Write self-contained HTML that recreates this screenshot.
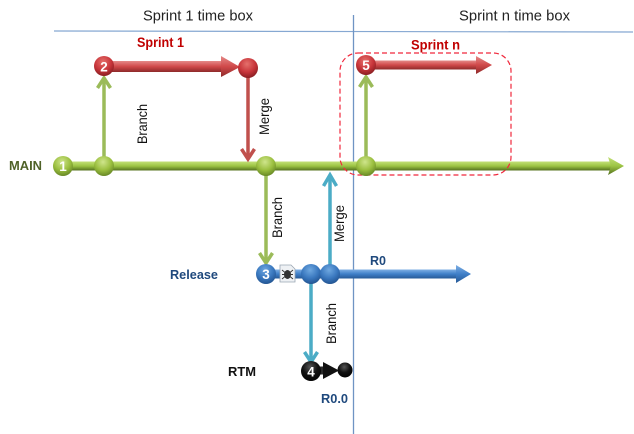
<!DOCTYPE html>
<html><head><meta charset="utf-8"><style>
html,body{margin:0;padding:0;background:#fff}
svg{display:block;filter:blur(.35px)}
text{font-family:"Liberation Sans",sans-serif}
</style></head><body>
<svg width="634" height="434" viewBox="0 0 634 434" xmlns="http://www.w3.org/2000/svg">
<defs>
<linearGradient id="gl" x1="0" y1="0" x2="0" y2="1"><stop offset="0" stop-color="#c3e078"/><stop offset=".5" stop-color="#9cc443"/><stop offset="1" stop-color="#54701f"/></linearGradient>
<linearGradient id="rl" x1="0" y1="0" x2="0" y2="1"><stop offset="0" stop-color="#e58a88"/><stop offset=".5" stop-color="#d0494a"/><stop offset="1" stop-color="#8e2a2a"/></linearGradient>
<linearGradient id="bl" x1="0" y1="0" x2="0" y2="1"><stop offset="0" stop-color="#7fb0e4"/><stop offset=".5" stop-color="#3f7fc8"/><stop offset="1" stop-color="#275a96"/></linearGradient>
<radialGradient id="gn" cx=".45" cy=".3" r=".75"><stop offset="0" stop-color="#cfe58c"/><stop offset=".55" stop-color="#9bbf3f"/><stop offset="1" stop-color="#5f7f22"/></radialGradient>
<radialGradient id="rn" cx=".45" cy=".3" r=".75"><stop offset="0" stop-color="#e5706c"/><stop offset=".55" stop-color="#c8353a"/><stop offset="1" stop-color="#7f1a1e"/></radialGradient>
<radialGradient id="bn" cx=".45" cy=".3" r=".75"><stop offset="0" stop-color="#6fa8e0"/><stop offset=".55" stop-color="#3a78bf"/><stop offset="1" stop-color="#1f4f8a"/></radialGradient>
<radialGradient id="kn" cx=".45" cy=".3" r=".75"><stop offset="0" stop-color="#555"/><stop offset=".5" stop-color="#111"/><stop offset="1" stop-color="#000"/></radialGradient>
</defs>

<!-- grid lines -->
<line x1="54" y1="31" x2="633" y2="32" stroke="#86a8d2" stroke-width="1.2"/>
<line x1="353.5" y1="15" x2="353.5" y2="434" stroke="#6f94c4" stroke-width="1.3"/>

<!-- header text -->
<text x="143" y="20.500" font-size="14.500" fill="#222" textLength="110" lengthAdjust="spacingAndGlyphs">Sprint 1 time box</text>
<text x="459" y="20.500" font-size="14.500" fill="#222" textLength="111" lengthAdjust="spacingAndGlyphs">Sprint n time box</text>

<!-- main line -->
<rect x="63" y="161.500" width="548" height="9" fill="url(#gl)"/>
<polygon points="608,157 624,166 608,175 611,166" fill="url(#gl)"/>

<!-- sprint 1 -->
<rect x="104" y="61" width="120" height="11" fill="url(#rl)"/>
<polygon points="221,56 240,67 221,77" fill="url(#rl)"/>

<!-- sprint n -->
<rect x="366" y="60.500" width="112" height="9" fill="url(#rl)"/>
<polygon points="476,56 492,65 476,74" fill="url(#rl)"/>

<!-- green verticals -->
<g stroke="#9bbb59" stroke-width="3.500" fill="none">
<line x1="104" y1="158" x2="104" y2="78"/><polyline points="97.500,88 104,78 110.500,88"/>
<line x1="366" y1="158" x2="366" y2="77"/><polyline points="359.500,87 366,77 372.500,87"/>
<line x1="266" y1="175" x2="266" y2="262"/><polyline points="259.500,253 266,263 272.500,253"/>
</g>
<!-- red merge -->
<g stroke="#c0504d" stroke-width="3.500" fill="none">
<line x1="248" y1="76" x2="248" y2="159"/><polyline points="241.500,149 248,159 254.500,149"/>
</g>

<!-- blue line -->
<rect x="266" y="269.500" width="192" height="9" fill="url(#bl)"/>
<polygon points="456,265 471,274 456,283" fill="url(#bl)"/>

<!-- teal -->
<g stroke="#4bacc6" stroke-width="3.500" fill="none">
<line x1="330" y1="266" x2="330" y2="176"/><polyline points="323.500,186 330,175 336.500,186"/>
<line x1="311" y1="283" x2="311" y2="361"/><polyline points="304.500,352 311,362 317.500,352"/>
</g>

<!-- black -->
<rect x="311" y="366.500" width="16" height="8" fill="#2a2a2a"/>
<polygon points="323,362 339,370.500 323,379" fill="#111"/>

<!-- dashed box -->
<rect x="340" y="53" width="171" height="122" rx="18" ry="18" fill="none" stroke="#f0283c" stroke-width="1.200" stroke-dasharray="5 3"/>

<!-- bug icon -->
<g>
<path d="M280,265h11l4,4v13h-15z" fill="#eef1f4" stroke="#9aa6b2" stroke-width=".8"/>
<ellipse cx="287.500" cy="274.500" rx="3.500" ry="4.500" fill="#333"/>
<path d="M282,270l11,9M293,270l-11,9M282,274.500h11" stroke="#333" stroke-width=".9"/>
</g>

<!-- nodes -->
<circle cx="63" cy="166" r="10" fill="url(#gn)"/>
<circle cx="104" cy="166" r="10" fill="url(#gn)"/>
<circle cx="266" cy="166" r="10" fill="url(#gn)"/>
<circle cx="366" cy="166" r="10" fill="url(#gn)"/>
<circle cx="104" cy="66" r="10" fill="url(#rn)"/>
<circle cx="248" cy="68" r="10" fill="url(#rn)"/>
<circle cx="366" cy="65" r="10" fill="url(#rn)"/>
<circle cx="266" cy="274" r="10" fill="url(#bn)"/>
<circle cx="311" cy="274" r="10" fill="url(#bn)"/>
<circle cx="330" cy="274" r="10" fill="url(#bn)"/>
<circle cx="311" cy="371" r="10" fill="url(#kn)"/>
<circle cx="345" cy="370" r="7.500" fill="url(#kn)"/>

<!-- node numbers -->
<g font-size="13.500" font-weight="bold" fill="#fff" text-anchor="middle">
<text x="63" y="171">1</text>
<text x="104" y="71.500">2</text>
<text x="266" y="279">3</text>
<text x="311" y="376.500">4</text>
<text x="366" y="70">5</text>
</g>

<!-- labels -->
<text x="137" y="47" font-size="13.500" font-weight="bold" fill="#c00000" textLength="47" lengthAdjust="spacingAndGlyphs">Sprint 1</text>
<text x="411" y="49.500" font-size="13.500" font-weight="bold" fill="#c00000" textLength="49" lengthAdjust="spacingAndGlyphs">Sprint n</text>
<text x="9" y="170" font-size="13" font-weight="bold" fill="#4f6228" textLength="33" lengthAdjust="spacingAndGlyphs">MAIN</text>
<text x="170" y="279" font-size="13" font-weight="bold" fill="#1f497d" textLength="48" lengthAdjust="spacingAndGlyphs">Release</text>
<text x="228" y="376" font-size="13" font-weight="bold" fill="#111" textLength="28" lengthAdjust="spacingAndGlyphs">RTM</text>
<text x="370" y="265" font-size="13" font-weight="bold" fill="#1f497d" textLength="16" lengthAdjust="spacingAndGlyphs">R0</text>
<text x="321" y="403" font-size="13" font-weight="bold" fill="#1f497d" textLength="27" lengthAdjust="spacingAndGlyphs">R0.0</text>

<!-- rotated labels -->
<g font-size="13.500" fill="#111">
<text transform="translate(147,144) rotate(-90)" textLength="40" lengthAdjust="spacingAndGlyphs">Branch</text>
<text transform="translate(269,135) rotate(-90)" textLength="37" lengthAdjust="spacingAndGlyphs">Merge</text>
<text transform="translate(282,238) rotate(-90)" textLength="41" lengthAdjust="spacingAndGlyphs">Branch</text>
<text transform="translate(344,242) rotate(-90)" textLength="37" lengthAdjust="spacingAndGlyphs">Merge</text>
<text transform="translate(336,344) rotate(-90)" textLength="41" lengthAdjust="spacingAndGlyphs">Branch</text>
</g>
</svg>
</body></html>
